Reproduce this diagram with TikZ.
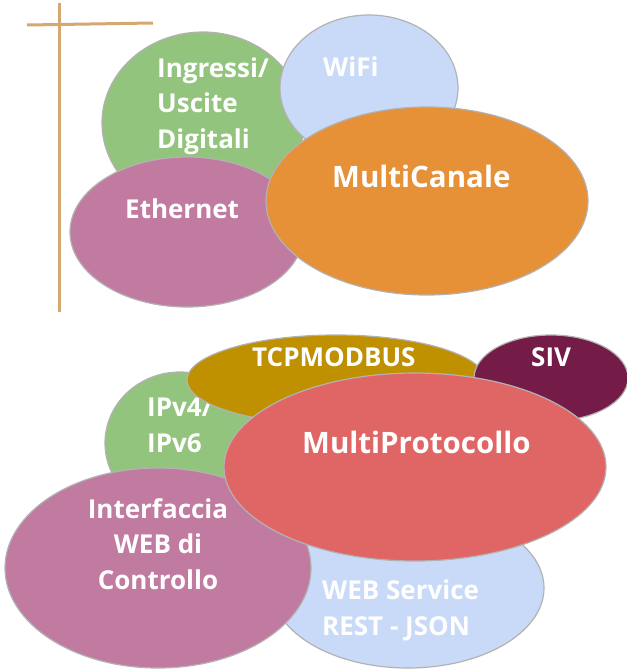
\documentclass[tikz,border=0pt]{standalone}
\usepackage{fontspec}
\setmainfont{Open Sans}
\usetikzlibrary{shapes.geometric}
\definecolor{smgreen}{RGB}{147,196,125}
\definecolor{smblue}{RGB}{201,218,248}
\definecolor{smorange}{RGB}{230,145,56}
\definecolor{smpink}{RGB}{194,123,160}
\definecolor{smgold}{RGB}{191,144,0}
\definecolor{smplum}{RGB}{116,27,71}
\definecolor{smred}{RGB}{224,102,102}
\definecolor{smgray}{RGB}{178,178,178}
\definecolor{smtan}{RGB}{212,168,112}
\tikzset{
  bolla/.style={draw=smgray,line width=1.2pt,ellipse,inner sep=0pt},
  testo/.style={text=white,font=\bfseries\fontsize{26}{35.5}\selectfont,inner sep=0pt,anchor=base west,align=left},
  grande/.style={testo,font=\bfseries\fontsize{29.5}{36}\selectfont},
  croce/.style={smtan,line width=3pt},
}

\begin{document}
\begin{tikzpicture}[x=1pt,y=-1pt]
\useasboundingbox (0,0) rectangle (627,670);

% Croce
\coordinate (crTop) at (59,3);
\coordinate (crBot) at (59,312);
\coordinate (crLeft) at (27,25);
\coordinate (crRight) at (153,23);
\draw[croce] (crTop) -- (crBot);
\draw[croce] (crLeft) -- (crRight);

% MultiCanale
\node[bolla,fill=smgreen,minimum width=202pt,minimum height=182pt] (ingressi) at (203,123) {};
\node[testo] (tIngressi) at (157,148) {Ingressi/\\Uscite\\Digitali};

\node[bolla,fill=smblue,minimum width=178pt,minimum height=146pt] (wifi) at (369,88) {};
\node[testo] (tWifi) at (323,76) {WiFi};

\node[bolla,fill=smpink,minimum width=234pt,minimum height=150pt] (ethernet) at (187,232) {};
\node[testo] (tEthernet) at (125,218) {Ethernet};

\node[bolla,fill=smorange,minimum width=322pt,minimum height=188pt] (canale) at (427,201) {};
\node[grande] (tCanale) at (332,187) {MultiCanale};

% MultiProtocollo
\node[bolla,fill=smgreen,minimum width=150pt,minimum height=142pt] (ip) at (180,443) {};
\node[testo] (tIp) at (147,452) {IPv4/\\IPv6};

\node[bolla,fill=smgold,minimum width=298pt,minimum height=90pt] (modbus) at (336,380) {};
\node[testo] (tModbus) at (252,366) {TCPMODBUS};

\node[bolla,fill=smplum,minimum width=154pt,minimum height=86pt] (siv) at (551,378) {};
\node[testo] (tSiv) at (531,366) {SIV};

\node[bolla,fill=smblue,minimum width=272pt,minimum height=160pt] (rest) at (408,588) {};
\node[testo] (tRest) at (322,635) {WEB Service\\REST - JSON};

\node[bolla,fill=smpink,minimum width=306pt,minimum height=200pt] (web) at (158,568) {};
\node[testo,align=center,anchor=base] (tWeb) at (158,589) {Interfaccia\\WEB di\\Controllo};

\node[bolla,fill=smred,minimum width=382pt,minimum height=188pt] (protocollo) at (415,467) {};
\node[grande] (tProtocollo) at (302,453) {MultiProtocollo};
\end{tikzpicture}
\end{document}
